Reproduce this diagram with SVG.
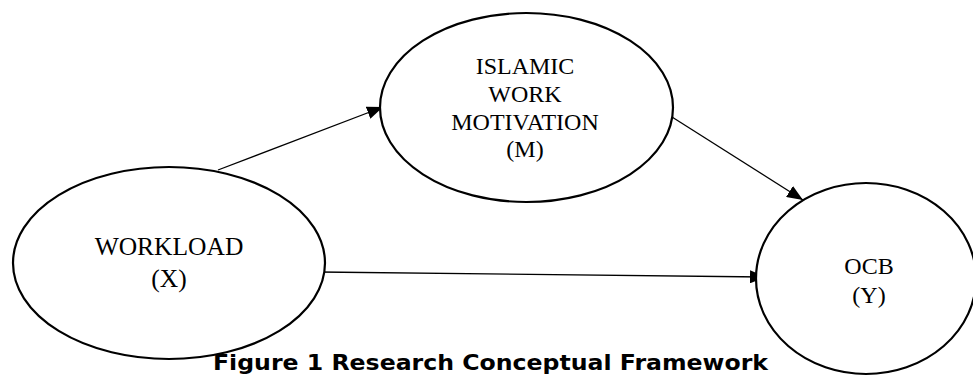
<svg xmlns="http://www.w3.org/2000/svg" width="973" height="376" viewBox="0 0 973 376">
<style>
.node ellipse{fill:#fff;stroke:#000;stroke-width:2.2}
.node text{font-family:"Liberation Serif","Times New Roman",serif;font-size:24px;fill:#000;text-anchor:middle}
.edge{stroke:#000;stroke-width:1.3;fill:none;marker-end:url(#ah)}
.cap{font-family:"DejaVu Sans",Verdana,sans-serif;font-weight:bold;font-size:21px;fill:#000}
</style>
<defs>
<marker id="ah" markerUnits="userSpaceOnUse" markerWidth="17" markerHeight="13" refX="16" refY="6.5" orient="auto">
<path d="M0,0 L16,6.5 L0,13 Z" fill="#000"/>
</marker>
</defs>
<rect width="973" height="376" fill="#fff"/>
<g id="connectors">
<line class="edge" x1="218" y1="170" x2="383" y2="107"/>
<line class="edge" x1="672" y1="117" x2="803" y2="200"/>
<line class="edge" x1="319" y1="272" x2="766" y2="277"/>
</g>
<g id="node-m" class="node">
<ellipse cx="526.5" cy="107.5" rx="146.5" ry="94.5"/>
<text x="525" y="74">ISLAMIC</text>
<text x="525" y="102">WORK</text>
<text x="525" y="130">MOTIVATION</text>
<text x="525" y="157">(M)</text>
</g>
<g id="node-x" class="node">
<ellipse cx="169" cy="263" rx="156" ry="96"/>
<text x="169" y="255" style="font-size:25.5px">WORKLOAD</text>
<text x="169" y="287" style="font-size:25.5px">(X)</text>
</g>
<g id="node-y" class="node">
<ellipse cx="866" cy="278.5" rx="110" ry="95.5"/>
<text x="869" y="274">OCB</text>
<text x="869" y="303">(Y)</text>
</g>
<text class="cap" x="213" y="370" textLength="555" lengthAdjust="spacingAndGlyphs">Figure 1 Research Conceptual Framework</text>
</svg>
